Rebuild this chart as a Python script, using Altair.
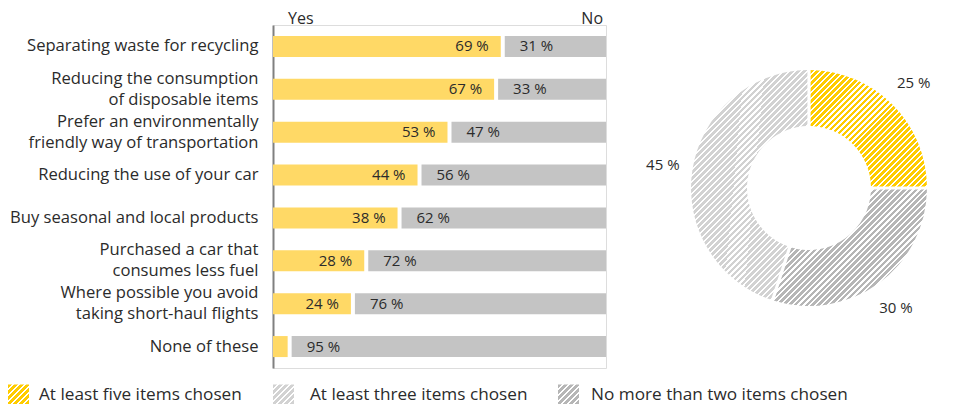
import json
import altair as alt
import pandas as pd

# ---------------- data ----------------
categories = [
    "Separating waste for recycling",
    "Reducing the consumption\nof disposable items",
    "Prefer an environmentally\nfriendly way of transportation",
    "Reducing the use of your car",
    "Buy seasonal and local products",
    "Purchased a car that\nconsumes less fuel",
    "Where possible you avoid\ntaking short-haul flights",
    "None of these",
]
yes_values = [69, 67, 53, 44, 38, 28, 24, 5]
no_values = [31, 33, 47, 56, 62, 72, 76, 95]

header_labels = ["Yes", "No"]
header_at = [0, 100]

donut_groups = [
    "At least five items chosen",
    "No more than two items chosen",
    "At least three items chosen",
]
donut_values = [25, 30, 45]
legend_groups = [
    "At least five items chosen",
    "At least three items chosen",
    "No more than two items chosen",
]

# ---------------- style ----------------
FONT = "Open Sans"
TEXT = "#2b2b2b"
YELLOW_BAR = "#FFD966"
GRAY_BAR = "#C4C4C4"
hatch_colors = {
    "At least five items chosen": "#FFCC00",
    "At least three items chosen": "#D2D2D2",
    "No more than two items chosen": "#B6B6B6",
}
# approximate bounding boxes (px) of each donut slice, for 45-degree stripes
slice_boxes = {
    "At least five items chosen": (117, 117),
    "No more than two items chosen": (155, 118),
    "At least three items chosen": (118, 230),
}
# legend layout (pixels relative to the plot origin)
legend_square_x = [-254.5, 10.5, 295.5]
legend_text_x = [-234, 37, 318]
legend_y = 370


def hatch(color, W, H, period=6.0, frac=0.62, bg="#ffffff"):
    s = W + H
    n = max(1, round(s / period))
    k = (W * W + H * H) / s
    stops = []
    for i in range(n):
        a = round(i / n, 5)
        b = round((i + frac) / n, 5)
        c = round((i + 1) / n, 5)
        stops += [
            {"offset": a, "color": color},
            {"offset": b, "color": color},
            {"offset": b, "color": bg},
            {"offset": c, "color": bg},
        ]
    return {"gradient": "linear", "x1": 0, "y1": 0,
            "x2": round(W / k, 5), "y2": round(H / k, 5), "stops": stops}


bars = pd.DataFrame({"label": categories, "yes": yes_values, "no": no_values})
header = pd.DataFrame({"text": header_labels, "pos": header_at})
donut = pd.DataFrame({"group": donut_groups, "value": donut_values,
                      "order": list(range(len(donut_groups)))})
legend_df = pd.DataFrame({"group": legend_groups})

xscale = alt.Scale(domain=[0, 100])
yenc = alt.Y(
    "label:N",
    sort=categories,
    scale=alt.Scale(paddingInner=0.51, paddingOuter=0.255),
    axis=alt.Axis(
        title=None, ticks=False, labelExpr="split(datum.label, '\\n')",
        labelFontSize=16.6, labelColor=TEXT, labelFont=FONT, labelPadding=15,
        labelLineHeight=21, labelLimit=0, domainColor="#808080", domainWidth=2,
        grid=False,
        labelOffset={"condition": {"test": "indexof(datum.value, '\\n') >= 0",
                                   "value": -10.5}, "value": 0},
    ),
)

base = alt.Chart(bars).transform_calculate(
    zero="0",
    total="datum.yes + datum.no",
    yes_label="datum.yes + ' %'",
    no_label="datum.no + ' %'",
)

yes_bar = base.mark_bar(color=YELLOW_BAR, x2Offset=-2).encode(
    x=alt.X("zero:Q", scale=xscale, axis=None), x2="yes:Q", y=yenc)
no_bar = base.mark_bar(color=GRAY_BAR, xOffset=2).encode(
    x=alt.X("yes:Q", scale=xscale, axis=None), x2="total:Q", y=yenc)
yes_text = base.transform_filter("datum.yes >= 10").mark_text(
    align="right", baseline="middle", dx=-14, fontSize=15, color=TEXT, font=FONT
).encode(x=alt.X("yes:Q", scale=xscale, axis=None), y=yenc, text="yes_label:N")
no_text = base.mark_text(
    align="left", baseline="middle", dx=17, fontSize=15, color=TEXT, font=FONT
).encode(x=alt.X("yes:Q", scale=xscale, axis=None), y=yenc, text="no_label:N")

hbase = alt.Chart(header)
yes_head = hbase.transform_filter("datum.pos == 0").mark_text(
    align="left", baseline="middle", dx=15, fontSize=16, color=TEXT, font=FONT
).encode(x=alt.X("pos:Q", scale=xscale, axis=None), y=alt.value(-6), text="text:N")
no_head = hbase.transform_filter("datum.pos == 100").mark_text(
    align="right", baseline="middle", dx=-3, fontSize=16, color=TEXT, font=FONT
).encode(x=alt.X("pos:Q", scale=xscale, axis=None), y=alt.value(-6), text="text:N")

# donut
CX, CY = 536, 163
grads = {g: hatch(hatch_colors[g], *slice_boxes[g]) for g in donut_groups}
arc_color = {
    "condition": [
        {"test": f"datum.group === {json.dumps(g)}", "value": grads[g]}
        for g in donut_groups[:-1]
    ],
    "value": grads[donut_groups[-1]],
}

dbase = alt.Chart(donut).transform_calculate(lbl="datum.value + ' %'")
theta = alt.Theta("value:Q", stack=True, scale=alt.Scale(domain=[0, 100]))
order = alt.Order("order:Q")

arcs = dbase.mark_arc(outerRadius=118, innerRadius=62, padAngle=0.024).encode(
    theta=theta, order=order, x=alt.value(CX), y=alt.value(CY), color=arc_color)

arc_text = dbase.mark_text(radius=148, fontSize=15, color=TEXT, font=FONT,
                           baseline="middle", align="center").encode(
    theta=theta, order=order, x=alt.value(CX), y=alt.value(CY), text="lbl:N")

# custom legend with hatched swatches
legend_layers = []
for i, g in enumerate(legend_groups):
    lb = alt.Chart(legend_df).transform_filter(f"datum.group === {json.dumps(g)}")
    legend_layers.append(
        lb.mark_square(size=441, opacity=1, strokeWidth=0).encode(
            x=alt.value(legend_square_x[i]), y=alt.value(legend_y),
            color=alt.value(hatch(hatch_colors[g], 21, 21)))
    )
    legend_layers.append(
        lb.mark_text(align="left", baseline="middle", fontSize=17.2,
                     color=TEXT, font=FONT).encode(
            x=alt.value(legend_text_x[i]), y=alt.value(legend_y), text="group:N")
    )

chart = alt.layer(
    yes_bar, no_bar, yes_text, no_text, yes_head, no_head,
    arcs, arc_text, *legend_layers,
).properties(
    width=333, height=343,
    autosize=alt.AutoSizeParams(type="none"),
    padding={"left": 265, "top": 17, "right": 339, "bottom": 36},
).configure_view(stroke=None).configure(font=FONT)

chart.save("out.html", embed_options={"renderer": "svg", "actions": False})
